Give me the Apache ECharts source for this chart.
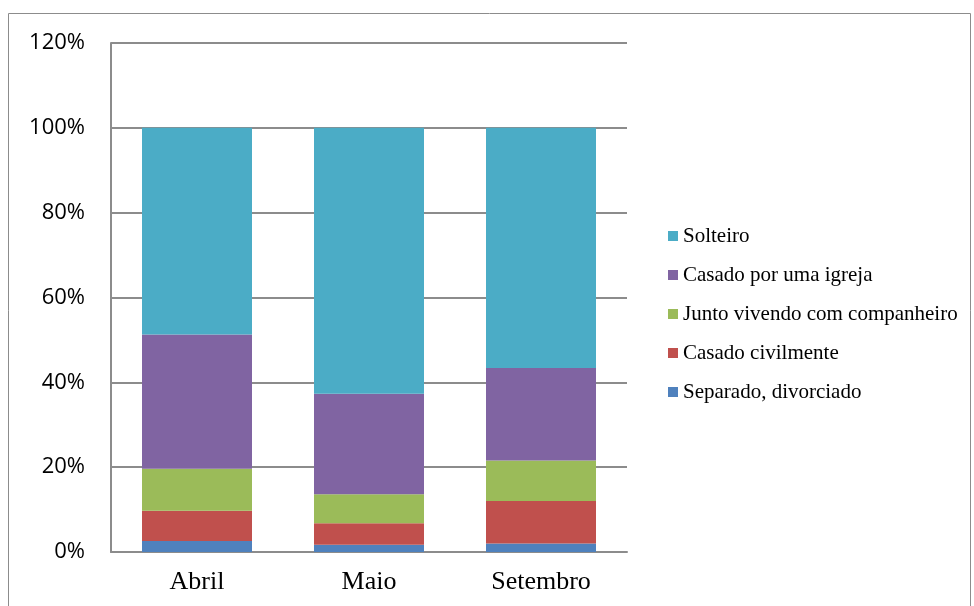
<!DOCTYPE html>
<html>
<head>
<meta charset="utf-8">
<script src="https://cdn.jsdelivr.net/npm/echarts@6/dist/echarts.min.js"></script>
<style>
  html, body { margin: 0; padding: 0; background: #fff; }
  #chart { width: 974px; height: 606px; }
</style>
</head>
<body>
<div id="chart"></div>
<script>
    let months = ['Abril', 'Maio', 'Setembro'];
    let legendOrder = ['Solteiro', 'Casado por uma igreja', 'Junto vivendo com companheiro', 'Casado civilmente', 'Separado, divorciado'];
    let yTicks = [0, 20, 40, 60, 80, 100, 120];

    // percentages per month, bottom of the stack first
    let separado = [2.6, 1.7, 2.0];
    let casadoCivil = [7.1, 5.1, 10.0];
    let junto = [9.9, 6.8, 9.6];
    let casadoIgreja = [31.7, 23.7, 21.8];
    let solteiro = [48.7, 62.7, 56.6];

    let stackData = [
        { name: 'Separado, divorciado', values: separado, color: '#4F81BD' },
        { name: 'Casado civilmente', values: casadoCivil, color: '#C0504D' },
        { name: 'Junto vivendo com companheiro', values: junto, color: '#9BBB59' },
        { name: 'Casado por uma igreja', values: casadoIgreja, color: '#8064A2' },
        { name: 'Solteiro', values: solteiro, color: '#4BACC6' }
    ];

    let series = stackData.map(function (s) {
        return {
            name: s.name,
            type: 'bar',
            stack: 'total',
            barWidth: 110,
            data: s.values,
            itemStyle: { color: s.color },
            emphasis: { disabled: true }
        };
    });

    let option = {
        animation: false,
        color: stackData.map(s => s.color),
        graphic: [{
            type: 'rect',
            shape: { x: 8.5, y: 13.5, width: 962, height: 620 },
            style: { fill: 'none', stroke: '#8c8c8c', lineWidth: 1 },
            silent: true
        }],
        grid: { left: 111, right: 347, top: 43, bottom: 54 },
        legend: {
            orient: 'vertical',
            left: 668,
            top: 224,
            padding: 0,
            itemWidth: 10,
            itemHeight: 10,
            itemGap: 15,
            icon: 'rect',
            data: legendOrder,
            textStyle: {
                fontFamily: 'Liberation Serif',
                fontSize: 21,
                lineHeight: 24,
                color: '#000'
            }
        },
        xAxis: {
            type: 'category',
            data: months,
            axisTick: { show: false },
            axisLine: { lineStyle: { color: '#8c8c8c', width: 2 } },
            axisLabel: {
                margin: 17,
                fontFamily: 'Liberation Serif',
                fontSize: 26,
                color: '#000'
            }
        },
        yAxis: {
            type: 'value',
            min: yTicks[0],
            max: yTicks[yTicks.length - 1],
            interval: 20,
            axisLine: { show: true, lineStyle: { color: '#8c8c8c', width: 2 } },
            axisTick: { show: false },
            splitLine: { lineStyle: { color: '#8c8c8c', width: 2 } },
            axisLabel: {
                margin: 26,
                fontFamily: 'Open Sans',
                fontSize: 22,
                color: '#000',
                formatter: '{value}%'
            }
        },
        series: series
    };

    let chart = echarts.init(document.getElementById('chart'));
    chart.setOption(option);
</script>
</body>
</html>
